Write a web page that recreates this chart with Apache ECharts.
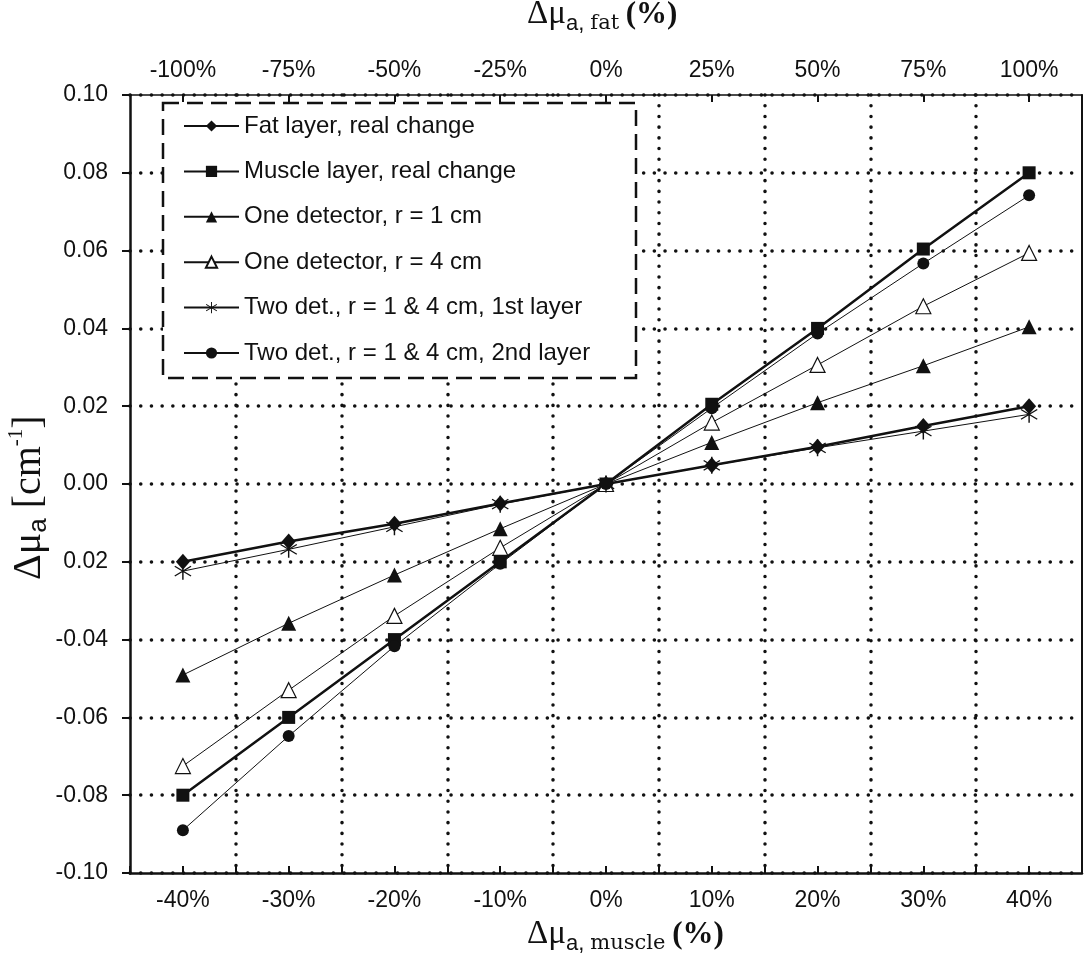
<!DOCTYPE html>
<html>
<head>
<meta charset="utf-8">
<script src="https://cdn.jsdelivr.net/npm/echarts@6/dist/echarts.min.js"></script>
<style>
  html, body { margin: 0; padding: 0; background: #fff; }
  #chart { width: 1086px; height: 961px; }
</style>
</head>
<body>
<div id="chart"></div>
<script>
// x positions: change of muscle absorption (%)
var muscleChange = [-40, -30, -20, -10, 0, 10, 20, 30, 40];

// series values (cm-1)
var fatReal      = [-0.020, -0.0148, -0.0102, -0.0050, 0, 0.0048, 0.0096, 0.0149, 0.0200];
var muscleReal   = [-0.080, -0.060, -0.040, -0.020, 0, 0.0205, 0.040, 0.0604, 0.080];
var oneDetR1     = [-0.0491, -0.0358, -0.0234, -0.0115, 0, 0.0107, 0.0209, 0.0304, 0.0404];
var oneDetR4     = [-0.0725, -0.0530, -0.0339, -0.0164, 0, 0.0158, 0.0306, 0.0457, 0.0594];
var twoDet1st    = [-0.0224, -0.0168, -0.0110, -0.0052, 0, 0.0048, 0.0093, 0.0136, 0.0179];
var twoDet2nd    = [-0.0890, -0.0648, -0.0417, -0.0205, 0, 0.0195, 0.0387, 0.0567, 0.0742];

var seriesNames = [
  'Fat layer, real change',
  'Muscle layer, real change',
  'One detector, r = 1 cm',
  'One detector, r = 4 cm',
  'Two det., r = 1 & 4 cm, 1st layer',
  'Two det., r = 1 & 4 cm, 2nd layer'
];

// tick labels
var bottomLabelValues = [-40, -30, -20, -10, 0, 10, 20, 30, 40];
var topLabels = ['-100%', '-75%', '-50%', '-25%', '0%', '25%', '50%', '75%', '100%'];
var gridXValues = [-35, -25, -15, -5, 5, 15, 25, 35];
// from -0.10 up to 0.10 (the original prints "0.02" under 0.00)
var yTickLabels = ['-0.10', '-0.08', '-0.06', '-0.04', '0.02', '0.00', '0.02', '0.04', '0.06', '0.08', '0.10'];

function pairs(ys) {
  return ys.map(function (y, i) { return [muscleChange[i], y]; });
}

var starPath = 'path://M-0.7,-10L0.7,-10L0.7,10L-0.7,10Z' +
  'M-8.21,-5.13L-7.51,-6.34L8.21,5.13L7.51,6.34Z' +
  'M7.51,-6.34L8.21,-5.13L-7.51,6.34L-8.21,5.13Z';

var ink = '#111';
var dotted = { color: ink, width: 3.5, type: [0.1, 10.6], cap: 'round' };
var fontSans = 'Liberation Sans';
var fontSerif = 'Liberation Serif';

var chart = echarts.init(document.getElementById('chart'));

// axis titles (x titles smaller than the y title)
var xTitleRich = {
  m: { fontFamily: fontSerif, fontSize: 33, lineHeight: 40, fill: ink },
  s: { fontFamily: fontSans, fontSize: 22, lineHeight: 36, verticalAlign: 'bottom', fill: ink },
  f: { fontFamily: 'DejaVu Serif', fontSize: 21, lineHeight: 36, verticalAlign: 'bottom', fill: ink },
  p: { fontFamily: fontSerif, fontSize: 31, fontWeight: 'bold', lineHeight: 40, fill: ink }
};
var yTitleRich = {
  m: { fontFamily: fontSerif, fontSize: 40, lineHeight: 46, fill: ink },
  s: { fontFamily: fontSans, fontSize: 26, lineHeight: 42, verticalAlign: 'bottom', fill: ink },
  u: { fontFamily: fontSerif, fontSize: 21, lineHeight: 21, verticalAlign: 'top', fill: ink }
};

function lineSeries(name, data, symbol, size, width, fill) {
  return {
    name: name,
    type: 'line',
    xAxisIndex: 0,
    yAxisIndex: 0,
    data: pairs(data),
    symbol: symbol,
    symbolSize: size,
    showAllSymbol: true,
    animation: false,
    lineStyle: { color: ink, width: width },
    itemStyle: { color: fill || ink, borderColor: ink, borderWidth: fill ? 1.2 : 0 },
    emphasis: { disabled: true }
  };
}

var option = {
  backgroundColor: '#fff',
  animation: false,
  grid: { left: 130, right: 4, top: 95, bottom: 88 },
  legend: {
    orient: 'vertical',
    left: 178,
    top: 109,
    itemWidth: 55,
    itemHeight: 14,
    itemGap: 21.4,
    selectedMode: false,
    textStyle: { fontFamily: fontSans, fontSize: 24, color: ink, lineHeight: 24 },
    data: seriesNames,
    z: 10
  },
  xAxis: [
    {
      type: 'value', position: 'bottom', min: -45, max: 45, interval: 5,
      axisLine: { onZero: false, lineStyle: { color: ink, width: 2.5 } },
      axisTick: { inside: true, length: 7, lineStyle: { color: ink, width: 2 } },
      axisLabel: {
        customValues: bottomLabelValues, margin: 16,
        fontFamily: fontSans, fontSize: 23, color: ink,
        formatter: function (v) { return v + '%'; }
      },
      splitLine: { show: false }
    },
    {
      type: 'value', position: 'top', min: -45, max: 45, interval: 5,
      axisLine: { onZero: false, lineStyle: { color: ink, width: 1.5 } },
      axisTick: { inside: true, length: 7, customValues: bottomLabelValues, lineStyle: { color: ink, width: 2 } },
      axisLabel: {
        customValues: bottomLabelValues, margin: 13,
        fontFamily: fontSans, fontSize: 23, color: ink,
        formatter: function (v) { return topLabels[bottomLabelValues.indexOf(v)]; }
      },
      splitLine: { show: false }
    },
    {
      type: 'value', position: 'bottom', min: -45, max: 45,
      axisLine: { show: false, onZero: false },
      axisTick: { show: false, customValues: gridXValues },
      axisLabel: { show: false },
      splitLine: { show: true, lineStyle: dotted }
    }
  ],
  yAxis: [
    {
      type: 'value', min: -0.1, max: 0.1, interval: 0.02,
      axisLine: { onZero: false, lineStyle: { color: ink, width: 2.5 } },
      axisTick: { inside: false, length: 8, lineStyle: { color: ink, width: 2 } },
      axisLabel: {
        margin: 22, fontFamily: fontSans, fontSize: 23, color: ink,
        formatter: function (v) { return yTickLabels[Math.round((v + 0.1) / 0.02)]; }
      },
      splitLine: { show: true, lineStyle: dotted }
    },
    {
      type: 'value', position: 'right', min: -0.1, max: 0.1,
      axisLine: { show: true, onZero: false, lineStyle: { color: ink, width: 2 } },
      axisTick: { show: false },
      axisLabel: { show: false },
      splitLine: { show: false }
    }
  ],
  graphic: [
    {
      type: 'rect', z: 3,
      shape: { x: 163, y: 103, width: 473, height: 275 },
      style: { fill: '#fff', stroke: ink, lineWidth: 2.5, lineDash: [16, 8] }
    },
    {
      type: 'text', left: 527, top: -2,
      style: { text: '{m|Δμ}{s|a, }{f|fat }{p|(%)}', rich: xTitleRich }
    },
    {
      type: 'text', left: 527, top: 918,
      style: { text: '{m|Δμ}{s|a, }{f|muscle }{p|(%)}', rich: xTitleRich }
    },
    {
      type: 'text', x: 6, y: 580, rotation: Math.PI / 2,
      style: { text: '{m|Δμ}{s|a}{m| [cm}{u|-1}{m|]}', rich: yTitleRich }
    }
  ],
  series: [
    lineSeries(seriesNames[0], fatReal, 'diamond', [14, 16], 2.5),
    lineSeries(seriesNames[1], muscleReal, 'rect', 13, 2.5),
    lineSeries(seriesNames[2], oneDetR1, 'triangle', 15, 1),
    lineSeries(seriesNames[3], oneDetR4, 'triangle', 15, 1, '#fff'),
    lineSeries(seriesNames[4], twoDet1st, starPath, 17, 1),
    lineSeries(seriesNames[5], twoDet2nd, 'circle', 12, 1)
  ]
};

chart.setOption(option);
</script>
</body>
</html>
